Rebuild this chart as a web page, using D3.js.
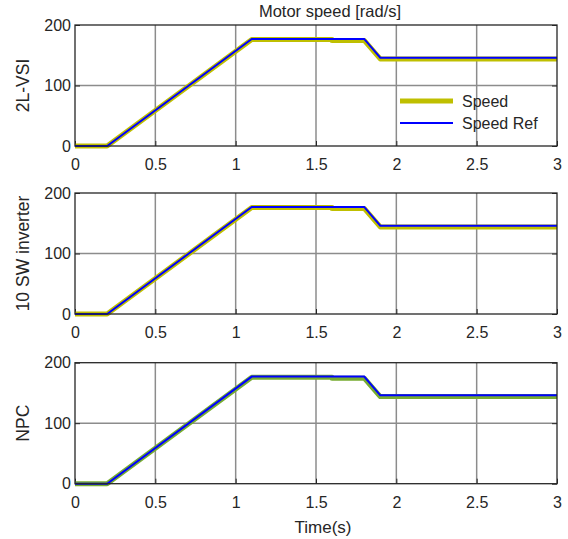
<!DOCTYPE html>
<html>
<head>
<meta charset="utf-8">
<script src="https://cdn.jsdelivr.net/npm/d3@7"></script>
<style>
  body { margin: 0; background: #fff; }
  svg text { font-family: "Liberation Sans", Arial, sans-serif; fill: #262626; }
</style>
</head>
<body>
<div id="chart"></div>
<script>
// data
const panelNames = ['2L-VSI', '10 SW inverter', 'NPC']
const speedColors = ['#bfbf00', '#bfbf00', '#77ac30']

const refTime = [0, 0.2, 1.1, 1.8, 1.9, 3]
const refSpeed = [0, 0, 177, 177, 146, 146]

const speedTime = [0, 0.2, 1.1, 1.6, 1.6, 1.8, 1.9, 3]
const speedVSI = [0, 0, 176, 176, 174.5, 174.5, 144, 144]
const speedSW = [0, 0, 176, 176, 174.5, 174.5, 144, 144]
const speedNPC = [0, 0, 176, 176, 174.5, 174.5, 144, 144]
const speedSeries = [speedVSI, speedSW, speedNPC]

const xTicks = [0, 0.5, 1, 1.5, 2, 2.5, 3]
const yTicks = [0, 100, 200]

const width = 568, height = 539
const left = 75, right = 557
const panelTops = [25, 193, 362.7]
const panelHeight = 121

const svg = d3.select('#chart').append('svg')
    .attr('width', width)
    .attr('height', height)

const x = d3.scaleLinear().domain([0, 3]).range([left, right])

const toPoints = (times, vals) => times.map((t, i) => [t, vals[i]])

panelNames.forEach((name, p) => {
    const top = panelTops[p]
    const y = d3.scaleLinear().domain([0, 200]).range([top + panelHeight, top])
    const g = svg.append('g')

    // grid
    g.selectAll('.xgrid').data(xTicks.slice(1, -1)).enter().append('line')
        .attr('x1', d => x(d)).attr('x2', d => x(d))
        .attr('y1', top).attr('y2', top + panelHeight)
        .attr('stroke', '#8c8c8c').attr('stroke-width', 1.5)
    g.selectAll('.ygrid').data(yTicks.slice(1, -1)).enter().append('line')
        .attr('x1', left).attr('x2', right)
        .attr('y1', d => y(d)).attr('y2', d => y(d))
        .attr('stroke', '#8c8c8c').attr('stroke-width', 1.5)

    // axes
    const xAxis = g.append('g')
        .attr('transform', `translate(0, ${top + panelHeight})`)
        .call(d3.axisBottom(x).tickValues(xTicks).tickSize(-5).tickPadding(13).tickFormat(d3.format('')))
    const yAxis = g.append('g')
        .attr('transform', `translate(${left}, 0)`)
        .call(d3.axisLeft(y).tickValues(yTicks).tickSize(-5).tickPadding(4))
    g.append('g')
        .attr('transform', `translate(${right}, 0)`)
        .call(d3.axisRight(y).tickValues(yTicks).tickSize(-5).tickFormat(''))
    ;[xAxis, yAxis].forEach(a => {
        a.selectAll('text').style('font-size', '16px').attr('fill', '#262626')
    })
    g.selectAll('.tick line').attr('stroke', '#262626')
    g.selectAll('.domain').remove()
    xAxis.selectAll('text').attr('dy', '0.71em')

    // lines
    const line = d3.line().x(d => x(d[0])).y(d => y(d[1]))
    g.append('path')
        .attr('d', line(toPoints(speedTime, speedSeries[p])))
        .attr('fill', 'none')
        .attr('stroke', speedColors[p])
        .attr('stroke-width', 5)
        .attr('stroke-linejoin', 'round')
    g.append('path')
        .attr('d', line(toPoints(refTime, refSpeed)))
        .attr('fill', 'none')
        .attr('stroke', '#0000ff')
        .attr('stroke-width', 2)

    // box
    g.append('rect')
        .attr('x', left).attr('y', top)
        .attr('width', right - left).attr('height', panelHeight)
        .attr('fill', 'none').attr('stroke', '#262626').attr('stroke-width', 1.3)

    // y label
    g.append('text')
        .attr('transform', `translate(29, ${top + panelHeight / 2}) rotate(-90)`)
        .attr('text-anchor', 'middle')
        .style('font-size', '17.5px')
        .text(name)

    // legend in the first panel
    if (p === 0) {
        const legend = [
            {label: 'Speed', color: speedColors[0], w: 5},
            {label: 'Speed Ref', color: '#0000ff', w: 2}
        ]
        legend.forEach((d, i) => {
            const ly = top + 76 + i * 22
            g.append('line')
                .attr('x1', 400).attr('x2', 453)
                .attr('y1', ly).attr('y2', ly)
                .attr('stroke', d.color).attr('stroke-width', d.w)
            g.append('text')
                .attr('x', 462).attr('y', ly + 6)
                .style('font-size', '16px')
                .text(d.label)
        })
    }
})

svg.append('text')
    .attr('x', 330).attr('y', 17)
    .attr('text-anchor', 'middle')
    .style('font-size', '16.5px')
    .text('Motor speed [rad/s]')

svg.append('text')
    .attr('x', 323).attr('y', 533)
    .attr('text-anchor', 'middle')
    .style('font-size', '17px')
    .text('Time(s)')
</script>
</body>
</html>
